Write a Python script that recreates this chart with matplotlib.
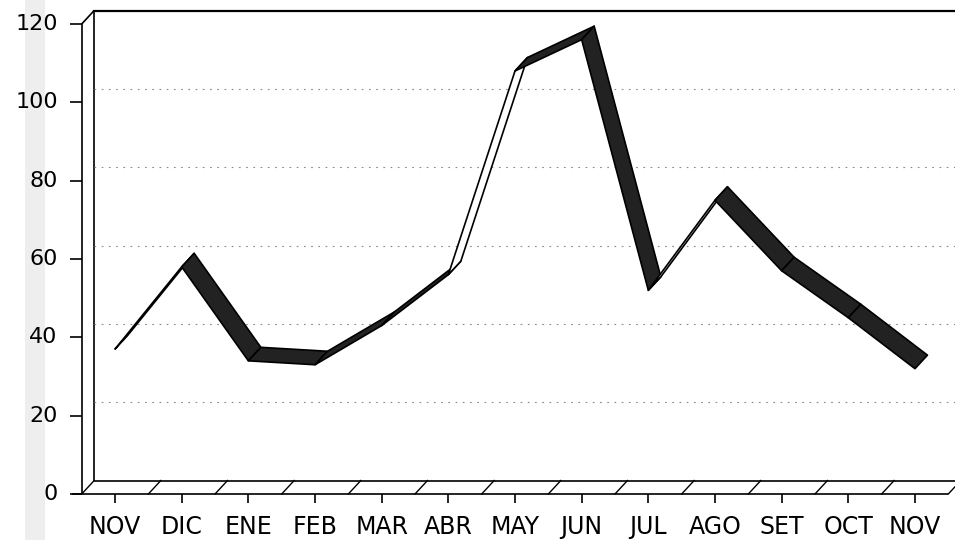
import numpy as np
import matplotlib
matplotlib.use("Agg")
import matplotlib.pyplot as plt
from matplotlib.patches import Polygon

# monthly values
months = ["NOV", "DIC", "ENE", "FEB", "MAR", "ABR", "MAY",
          "JUN", "JUL", "AGO", "SET", "OCT", "NOV"]
values = [37, 58, 34, 33, 43, 56, 108, 116, 52, 75, 57, 45, 32]
yticks = [0, 20, 40, 60, 80, 100, 120]

fig = plt.figure(figsize=(9.55, 5.4), dpi=100)

# faint scan strip on the left edge, kept behind everything
strip = fig.add_axes([25 / 955, 0, 20 / 955, 1])
strip.set_facecolor("#eeeeee")
strip.set_xticks([])
strip.set_yticks([])
for s in strip.spines.values():
    s.set_visible(False)
strip.set_zorder(0)

ax = fig.add_axes([81.7 / 955, 46 / 540, 866.6 / 955, 470 / 540])
ax.set_zorder(1)
ax.set_xlim(-0.5, 12.5)
ax.set_ylim(0, 120)
ax.axis("off")

# pixels per data unit, used to turn the 3-D depth offset into data units
p0 = ax.transData.transform((0, 0))
p1 = ax.transData.transform((1, 1))
sx, sy = p1 - p0
DX, DY = 12.5 / sx, 13.5 / sy
x0, x1 = -0.5, 12.5

line_kw = dict(color="black", lw=1.2, clip_on=False, solid_capstyle="butt")

# back wall
ax.plot([x0 + DX, x0 + DX], [DY, 120 + DY], **line_kw)
ax.plot([x0 + DX, x1 + DX], [120 + DY, 120 + DY], lw=1.6, color="black", clip_on=False)
ax.plot([x0, x0 + DX], [120, 120 + DY], **line_kw)

# dotted grid on the back wall
for v in yticks[1:-1]:
    ax.plot([x0 + DX, x1 + DX], [v + DY, v + DY], color="#888888", lw=0.8,
            ls=(0, (1.5, 5)), clip_on=False)

# front y axis with ticks and labels
ax.plot([x0, x0], [0, 120], **line_kw)
for v in yticks:
    ax.plot([x0 - 12 / sx, x0], [v, v], **line_kw)
    ax.text(x0 - 24 / sx, v, str(v), ha="right", va="center", fontsize=16,
            family="DejaVu Sans")

# floor: front edge, back edge and the slashes between months
ax.plot([x0 - 10 / sx, x1], [0, 0], **line_kw)
ax.plot([x0 + DX, x1 + DX], [DY, DY], **line_kw)
for k in np.arange(-0.5, 12.6, 1.0):
    ax.plot([k, k + DX], [0, DY], color="black", lw=1.0, clip_on=False)

# x ticks and month labels
for i, m in enumerate(months):
    ax.plot([i, i], [0, -9 / sy], **line_kw)
    ax.text(i, -33 / sy, m, ha="center", va="center", fontsize=17,
            family="DejaVu Sans")

# ribbon: dark where the top face shows, white where the underside shows
for i in range(len(values) - 1):
    xa, xb = i, i + 1
    ya, yb = values[i], values[i + 1]
    cross = (xb - xa) * sx * DY * sy - (yb - ya) * sy * DX * sx
    face = "#222222" if cross > 0 else "white"
    poly = Polygon([(xa, ya), (xb, yb), (xb + DX, yb + DY), (xa + DX, ya + DY)],
                   closed=True, facecolor=face, edgecolor="black", lw=1.2,
                   joinstyle="round", clip_on=False, zorder=3)
    ax.add_patch(poly)

fig.savefig("out.png", dpi=100)
